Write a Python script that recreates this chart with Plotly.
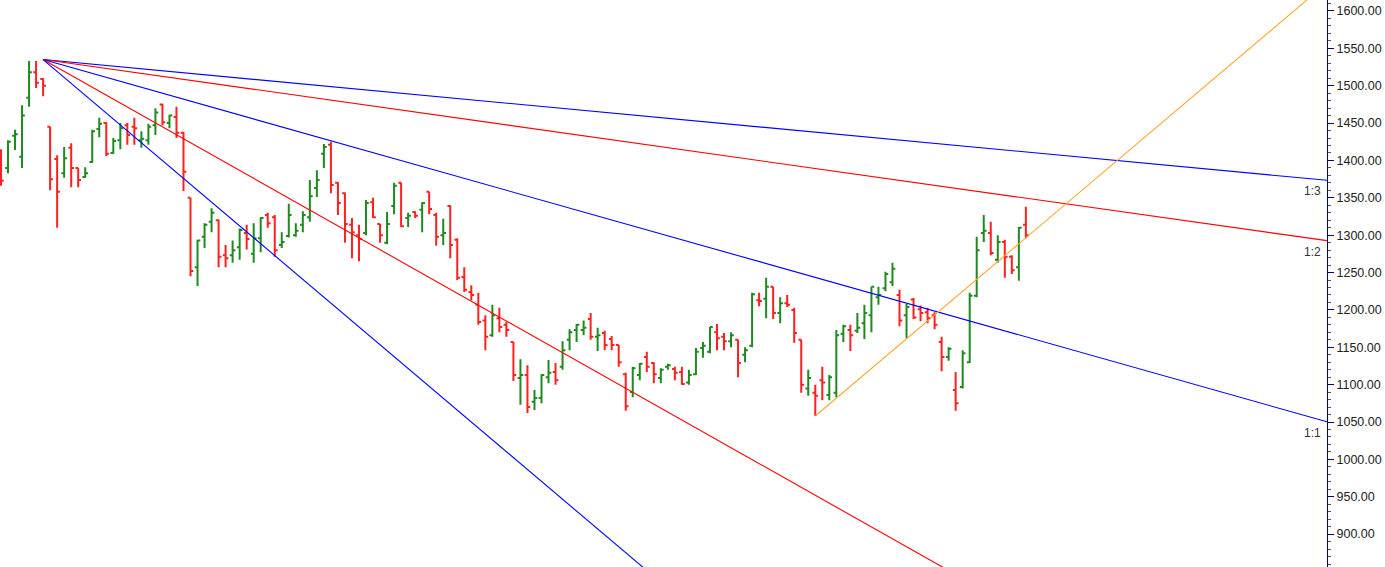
import plotly.graph_objects as go

# ---- OHLC data (bar index, price) ----
opens = [1407,1390,1433,1405,1484,1518,1509,1445,1402,1383,1417,1390,1378,1398,1442,1450,1410,1427,1447,1445,
         1427,1427,1447,1475,1450,1458,1437,1350,1257,1298,1318,1320,1273,1273,1284,1303,1275,1296,1327,1324,
         1287,1299,1300,1314,1324,1363,1409,1421,1370,1356,1314,1300,1303,1344,1315,1290,1339,1370,1323,1331,
         1334,1358,1327,1300,1339,1294,1244,1224,1207,1186,1166,1189,1180,1157,1109,1113,1077,1082,1110,1117,
         1124,1160,1173,1173,1188,1164,1169,1161,1153,1114,1090,1113,1137,1129,1109,1124,1121,1117,1103,1114,
         1149,1144,1170,1164,1158,1160,1140,1152,1213,1215,1231,1196,1209,1200,1160,1095,1089,1106,1086,1089,
         1168,1173,1172,1182,1193,1217,1229,1237,1220,1193,1214,1201,1197,1193,1157,1137,1093,1097,1130,1219,
         1303,1303,1267,1291,1271,1257,1314]
highs = [1415,1427,1441,1474,1533,1533,1510,1445,1407,1418,1423,1390,1391,1441,1457,1451,1430,1450,1450,1457,
         1439,1449,1470,1476,1461,1472,1438,1350,1294,1316,1336,1321,1287,1293,1309,1314,1316,1324,1330,1327,
         1304,1342,1316,1332,1374,1387,1422,1425,1371,1357,1323,1314,1347,1350,1315,1331,1370,1370,1330,1332,
         1344,1358,1330,1322,1340,1296,1257,1233,1223,1193,1207,1203,1184,1157,1134,1126,1093,1114,1133,1129,
         1158,1174,1181,1186,1196,1176,1172,1165,1153,1116,1124,1129,1144,1130,1122,1128,1124,1124,1120,1149,
         1157,1177,1181,1169,1170,1160,1150,1223,1223,1243,1231,1217,1220,1203,1160,1120,1100,1124,1113,1173,
         1180,1180,1196,1207,1231,1231,1251,1263,1227,1208,1216,1206,1203,1197,1164,1150,1117,1146,1223,1298,
         1327,1318,1300,1294,1273,1311,1338]
lows = [1366,1383,1414,1390,1472,1497,1486,1360,1310,1377,1364,1364,1377,1397,1431,1406,1409,1415,1421,1421,
        1417,1421,1434,1447,1443,1430,1359,1245,1232,1283,1304,1257,1257,1263,1267,1281,1263,1277,1310,1271,
        1283,1297,1298,1304,1318,1351,1390,1356,1327,1290,1269,1265,1300,1323,1290,1288,1328,1311,1311,1323,
        1304,1328,1286,1287,1269,1240,1224,1213,1180,1146,1164,1170,1164,1105,1073,1062,1066,1075,1102,1100,
        1120,1146,1157,1166,1160,1145,1146,1146,1124,1065,1083,1106,1117,1102,1102,1120,1106,1100,1100,1113,
        1136,1142,1146,1146,1150,1110,1130,1150,1205,1189,1188,1182,1204,1156,1089,1085,1058,1079,1079,1083,
        1157,1145,1169,1161,1170,1207,1225,1232,1178,1162,1188,1185,1182,1174,1118,1132,1065,1095,1129,1217,
        1291,1273,1263,1243,1248,1239,1296]
closes = [1373,1425,1435,1460,1518,1504,1500,1375,1358,1403,1390,1374,1383,1439,1449,1409,1426,1443,1434,1443,
          1429,1445,1464,1451,1460,1437,1385,1252,1293,1314,1330,1271,1269,1280,1307,1295,1296,1323,1316,1280,
          1291,1327,1306,1327,1352,1374,1418,1367,1343,1315,1304,1295,1343,1324,1300,1315,1366,1312,1326,1326,
          1343,1335,1298,1303,1287,1243,1227,1220,1184,1164,1193,1177,1173,1113,1113,1070,1082,1113,1116,1106,
          1146,1170,1180,1176,1164,1166,1153,1153,1130,1071,1122,1128,1124,1114,1120,1126,1116,1101,1113,1144,
          1152,1177,1162,1158,1166,1129,1146,1221,1212,1231,1196,1209,1207,1169,1100,1109,1085,1103,1110,1166,
          1178,1166,1176,1196,1231,1220,1248,1255,1186,1204,1190,1196,1189,1180,1137,1148,1075,1142,1219,1280,
          1306,1276,1291,1271,1253,1310,1300]
bars = list(range(len(opens)))

# ---- Gann fan ----
fan_anchor_bar = 6
fan_anchor_price = 1535
fan_unit = 2.65            # price per bar for the 1:1 line
fan_ratios = [1/3, 1/2, 1, 2, 3]
fan_names = ["1:3", "1:2", "1:1", "2:1", "3:1"]
fan_colors = ["#0000ff", "#ff0000", "#0000ff", "#ff0000", "#0000ff"]
fan_labeled = ["1:3", "1:2", "1:1"]

# ---- rising trend line from swing low ----
trend_bar = 116
trend_price = 1058
trend_slope = 7.95

x_min, x_max = -0.14, 188.9
y_min, y_max = 856, 1614.7
y_ticks = list(range(850, 1651, 50))

fig = go.Figure()
fig.add_trace(go.Ohlc(
    x=bars, open=opens, high=highs, low=lows, close=closes,
    increasing=dict(line=dict(color="#1f8a1f", width=2)),
    decreasing=dict(line=dict(color="#ff2020", width=2)),
    tickwidth=0.4, hoverinfo="skip",
))

end_bar = x_max
for name, r, col in zip(fan_names, fan_ratios, fan_colors):
    ys = [fan_anchor_price, fan_anchor_price - fan_unit * r * (end_bar - fan_anchor_bar)]
    fig.add_trace(go.Scatter(x=[fan_anchor_bar, end_bar], y=ys, mode="lines",
                             line=dict(color=col, width=1.1), hoverinfo="skip"))
    if name in fan_labeled:
        fig.add_annotation(x=end_bar, y=ys[1], text=name, showarrow=False,
                           xanchor="right", yanchor="middle", xshift=-4, yshift=-11,
                           font=dict(size=12, color="#333333", family="Liberation Sans, Arial"))

fig.add_trace(go.Scatter(x=[trend_bar, end_bar],
                         y=[trend_price, trend_price + trend_slope * (end_bar - trend_bar)],
                         mode="lines", line=dict(color="#ffa533", width=1.1), hoverinfo="skip"))

fig.update_layout(
    width=1385, height=567,
    margin=dict(l=0, r=58, t=0, b=0),
    paper_bgcolor="white", plot_bgcolor="white",
    showlegend=False,
    font=dict(family="Liberation Sans, Arial", size=12.5, color="#222222"),
    xaxis=dict(range=[x_min, x_max], visible=False, rangeslider=dict(visible=False), fixedrange=True),
    yaxis=dict(range=[y_min, y_max], side="right", showgrid=False, zeroline=False,
               showline=True, linecolor="#000080", linewidth=1,
               ticks="outside", ticklen=6, tickcolor="#000080",
               tickvals=y_ticks, ticktext=[f"{v:.2f}" for v in y_ticks],
               minor=dict(ticks="outside", ticklen=3, dtick=10, tickcolor="#4a4a8a", showgrid=False),
               automargin=False, fixedrange=True),
)

fig.write_html("out.html", config={"displayModeBar": False},
               post_script="document.body.style.margin='0';")
